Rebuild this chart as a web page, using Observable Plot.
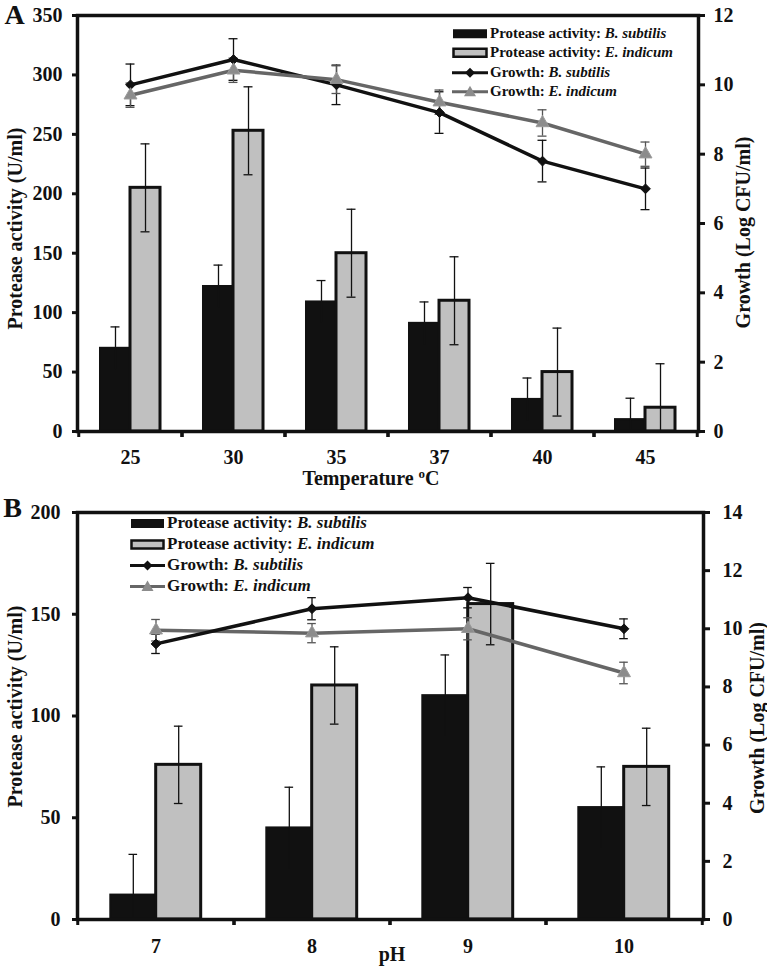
<!DOCTYPE html>
<html>
<head>
<meta charset="utf-8">
<script src="https://cdn.jsdelivr.net/npm/d3@7"></script>
<script src="https://cdn.jsdelivr.net/npm/@observablehq/plot@0.6"></script>
<style>
  body { margin: 0; background: #fff; }
  #root { position: relative; width: 767px; height: 968px; overflow: hidden;
          font-family: "Liberation Serif", "Times New Roman", serif; font-weight: bold; color: #111; }
  .panel { position: absolute; left: 0; }
  .xtitle { position: absolute; font-size: 20px; line-height: 20px; white-space: nowrap; transform: translateX(-50%); }
  .xtitle sup { font-size: 13px; vertical-align: 7px; line-height: 0; }
  .legend { position: absolute; }
  .legend .row { display: flex; align-items: center; white-space: nowrap; }
  .legend svg { display: block; margin-right: 2px; }
</style>
</head>
<body>
<div id="root"></div>
<script>
// ---------- DATA ----------
// Panel A: temperature
const tempCategories = ["25", "30", "35", "37", "40", "45"];
const tempProteaseBS = [70, 122, 109, 91, 27, 10];
const tempProteaseBSErr = [18, 18, 18, 18, 18, 18];
const tempProteaseEI = [205, 253, 150, 110, 50, 20];
const tempProteaseEIErr = [37, 37, 37, 37, 37, 37];
const tempGrowthBS = [10.0, 10.73, 10.0, 9.2, 7.8, 7.0];
const tempGrowthBSErr = [0.6, 0.6, 0.57, 0.6, 0.6, 0.6];
const tempGrowthEI = [9.7, 10.42, 10.15, 9.5, 8.9, 8.0];
const tempGrowthEIErr = [0.35, 0.35, 0.4, 0.35, 0.38, 0.35];
const tempLeftTicks = [0, 50, 100, 150, 200, 250, 300, 350];
const tempRightTicks = [0, 2, 4, 6, 8, 10, 12];

// Panel B: pH
const phCategories = ["7", "8", "9", "10"];
const phProteaseBS = [12, 45, 110, 55];
const phProteaseBSErr = [20, 20, 20, 20];
const phProteaseEI = [76, 115, 155, 75];
const phProteaseEIErr = [19, 19, 20, 19];
const phGrowthBS = [9.48, 10.69, 11.07, 10.0];
const phGrowthBSErr = [0.33, 0.38, 0.35, 0.34];
const phGrowthEI = [9.95, 9.85, 10.0, 8.48];
const phGrowthEIErr = [0.37, 0.33, 0.38, 0.37];
const phLeftTicks = [0, 50, 100, 150, 200];
const phRightTicks = [0, 2, 4, 6, 8, 10, 12, 14];

// Legend texts
const legendPrefixes = ["Protease activity: ", "Protease activity: ", "Growth: ", "Growth: "];
const legendSpecies = ["B. subtilis", "E. indicum", "B. subtilis", "E. indicum"];
const leftTitle = "Protease activity (U/ml)";
const rightTitle = "Growth (Log CFU/ml)";

// ---------- STYLE ----------
const FONT = '"Liberation Serif", "Times New Roman", serif';
const INK = "#111";
const GREY_BAR = "#c0c0c0";
const GREY_LINE = "#666";
const GREY_MARK = "#8c8c8c";
const TICK_FS = 20;

function panel(cfg) {
  const W = 767;
  const n = cfg.cats.length;
  const step = (W - cfg.ml - cfg.mr) / n;
  const frac = 0.29;
  const bw = step * frac;
  const k = cfg.yMax / cfg.gMax;
  const capInset = (bw - 9) / 2;
  const rows = cfg.cats.map((c, i) => ({
    cat: c,
    pBS: cfg.pBS[i], pBSe: cfg.pBSe[i],
    pEI: cfg.pEI[i], pEIe: cfg.pEIe[i],
    gBS: cfg.gBS[i] * k, gBSe: cfg.gBSe[i] * k,
    gEI: cfg.gEI[i] * k, gEIe: cfg.gEIe[i] * k
  }));
  const errRule = (yk, ek, dx, stroke) => Plot.ruleX(rows, {
    x: "cat", y1: d => d[yk] - d[ek], y2: d => d[yk] + d[ek], dx, stroke, strokeWidth: 1.3, clip: true
  });
  const errCap = (yk, ek, sign, dx, stroke) => Plot.tickY(rows, {
    x: "cat", y: d => d[yk] + sign * d[ek], dx, insetLeft: capInset, insetRight: capInset,
    stroke, strokeWidth: 1.3, clip: true
  });
  const lineBS = [
    Plot.line(rows, {x: "cat", y: "gBS", stroke: INK, strokeWidth: 3.5}),
    Plot.dot(rows, {x: "cat", y: "gBS", symbol: "diamond2", r: 4.4, fill: INK, stroke: INK, strokeWidth: 1})
  ];
  const lineEI = [
    Plot.line(rows, {x: "cat", y: "gEI", stroke: GREY_LINE, strokeWidth: 3.5}),
    Plot.dot(rows, {x: "cat", y: "gEI", symbol: "triangle", r: 4.8, fill: GREY_MARK, stroke: "#9a9a9a", strokeWidth: 1})
  ];
  return Plot.plot({
    width: W, height: cfg.H,
    marginTop: cfg.mt, marginBottom: cfg.mb, marginLeft: cfg.ml, marginRight: cfg.mr,
    style: {fontFamily: FONT, fontWeight: "bold", fontSize: TICK_FS + "px", color: INK, background: "transparent", overflow: "visible"},
    x: {type: "band", domain: cfg.cats, paddingInner: 1 - frac, paddingOuter: (1 - frac) / 2},
    y: {domain: [0, cfg.yMax]},
    marks: [
      Plot.barY(rows, {x: "cat", y: "pBS", fill: INK, stroke: INK, strokeWidth: 2, dx: -bw / 2, insetLeft: 0, insetRight: 0}),
      Plot.barY(rows, {x: "cat", y: "pEI", fill: GREY_BAR, stroke: INK, strokeWidth: 3, dx: bw / 2, insetLeft: 0, insetRight: 0}),
      errRule("pBS", "pBSe", -bw / 2, INK),
      errCap("pBS", "pBSe", 1, -bw / 2, INK),
      errRule("pEI", "pEIe", bw / 2, INK),
      errCap("pEI", "pEIe", 1, bw / 2, INK),
      errCap("pEI", "pEIe", -1, bw / 2, INK),
      errRule("gBS", "gBSe", 0, INK),
      errCap("gBS", "gBSe", 1, 0, INK),
      errCap("gBS", "gBSe", -1, 0, INK),
      errRule("gEI", "gEIe", 0, "#555"),
      errCap("gEI", "gEIe", 1, 0, "#555"),
      errCap("gEI", "gEIe", -1, 0, "#555"),
      ...(cfg.greyOnTop ? [...lineBS, ...lineEI] : [...lineEI, ...lineBS]),
      Plot.frame({stroke: INK, strokeWidth: 3.5}),
      Plot.axisY(cfg.leftTicks, {anchor: "left", tickSize: 5, tickPadding: cfg.lPad, strokeWidth: 3, fontSize: TICK_FS, fontWeight: "bold", label: null}),
      Plot.axisY(cfg.rightTicks.map(v => v * k), {anchor: "right", tickSize: 6, tickPadding: cfg.rPad, strokeWidth: 3, fontSize: TICK_FS, fontWeight: "bold",
        tickFormat: v => String(Math.round(v / k)), label: null}),
      Plot.axisX({anchor: "bottom", tickSize: 0, tickPadding: cfg.xPad, fontSize: TICK_FS, fontWeight: "bold", label: null}),
      Plot.axisX({anchor: "bottom", tickSize: 6, strokeWidth: 3, tickFormat: () => "", dx: step / 2, label: null}),
      Plot.axisX({anchor: "bottom", tickSize: 6, strokeWidth: 3, tickFormat: () => "", dx: -step / 2, label: null}),
      Plot.text([leftTitle], {frameAnchor: "left", textAnchor: "middle", lineAnchor: "middle", dx: cfg.ltDx, dy: cfg.ltDy, rotate: -90, fontSize: 20, fontWeight: "bold"}),
      Plot.text([rightTitle], {frameAnchor: "right", textAnchor: "middle", lineAnchor: "middle", dx: cfg.rtDx, dy: cfg.rtDy, rotate: -90, fontSize: 20, fontWeight: "bold"}),
      Plot.text([cfg.letter], {frameAnchor: "top-left", textAnchor: "middle", lineAnchor: "middle", dx: cfg.letDx, dy: cfg.letDy, fontSize: 28, fontWeight: "bold"})
    ]
  });
}

function legend(parent, o) {
  const div = document.createElement("div");
  div.className = "legend";
  div.style.left = o.left + "px";
  div.style.top = o.top + "px";
  div.style.fontSize = o.fontSize + "px";
  const kinds = ["barBS", "barEI", "lineBS", "lineEI"];
  kinds.forEach((kind, i) => {
    const row = document.createElement("div");
    row.className = "row";
    row.style.height = o.rowH + "px";
    const w = o.swW, h = o.rowH, m = h / 2;
    let sw = "";
    if (kind === "barBS") sw = `<rect x="1" y="${m - 4.5}" width="${w - 2}" height="9" fill="${INK}"/>`;
    if (kind === "barEI") sw = `<rect x="1.5" y="${m - 4}" width="${w - 3}" height="8" fill="${GREY_BAR}" stroke="${INK}" stroke-width="2.5"/>`;
    if (kind === "lineBS") sw = `<line x1="0" x2="${w}" y1="${m}" y2="${m}" stroke="${INK}" stroke-width="3"/><polygon points="${w/2},${m-5} ${w/2+5},${m} ${w/2},${m+5} ${w/2-5},${m}" fill="${INK}"/>`;
    if (kind === "lineEI") sw = `<line x1="0" x2="${w}" y1="${m}" y2="${m}" stroke="${GREY_LINE}" stroke-width="3"/><polygon points="${w/2},${m-6} ${w/2+6},${m+4.5} ${w/2-6},${m+4.5}" fill="${GREY_MARK}"/>`;
    row.innerHTML = `<svg width="${w}" height="${h}">${sw}</svg><span>${legendPrefixes[i]}<i>${legendSpecies[i]}</i></span>`;
    div.appendChild(row);
  });
  parent.appendChild(div);
}

const root = document.getElementById("root");

// Panel A
const a = panel({
  H: 490, mt: 15, mb: 59, ml: 77, mr: 69,
  cats: tempCategories, yMax: 350, gMax: 12,
  pBS: tempProteaseBS, pBSe: tempProteaseBSErr, pEI: tempProteaseEI, pEIe: tempProteaseEIErr,
  gBS: tempGrowthBS, gBSe: tempGrowthBSErr, gEI: tempGrowthEI, gEIe: tempGrowthEIErr,
  leftTicks: tempLeftTicks, rightTicks: tempRightTicks,
  lPad: 10, rPad: 9, xPad: 18,
  ltDx: -62, ltDy: 5, rtDx: 45, rtDy: 9,
  letter: "A", letDx: -63, letDy: 0, greyOnTop: true
});
const wa = document.createElement("div"); wa.className = "panel"; wa.style.top = "0px"; wa.appendChild(a); root.appendChild(wa);

// Panel B
const b = panel({
  H: 478, mt: 22, mb: 49, ml: 77, mr: 64,
  cats: phCategories, yMax: 200, gMax: 14,
  pBS: phProteaseBS, pBSe: phProteaseBSErr, pEI: phProteaseEI, pEIe: phProteaseEIErr,
  gBS: phGrowthBS, gBSe: phGrowthBSErr, gEI: phGrowthEI, gEIe: phGrowthEIErr,
  leftTicks: phLeftTicks, rightTicks: phRightTicks,
  lPad: 12, rPad: 13, xPad: 19,
  ltDx: -62, ltDy: -9.5, rtDx: 54, rtDy: 2,
  letter: "B", letDx: -65, letDy: -4, greyOnTop: false
});
const wb = document.createElement("div"); wb.className = "panel"; wb.style.top = "490px"; wb.appendChild(b); root.appendChild(wb);

// X titles (HTML for superscript)
const t1 = document.createElement("div"); t1.className = "xtitle";
t1.style.left = "371px"; t1.style.top = "468px"; t1.innerHTML = "Temperature <sup>o</sup>C"; root.appendChild(t1);
const t2 = document.createElement("div"); t2.className = "xtitle";
t2.style.left = "392px"; t2.style.top = "944px"; t2.textContent = "pH"; root.appendChild(t2);

// Legends
legend(root, {left: 452, top: 23.5, rowH: 19.5, fontSize: 15, swW: 36});
legend(root, {left: 130, top: 512.5, rowH: 21, fontSize: 17, swW: 35});
</script>
</body>
</html>
